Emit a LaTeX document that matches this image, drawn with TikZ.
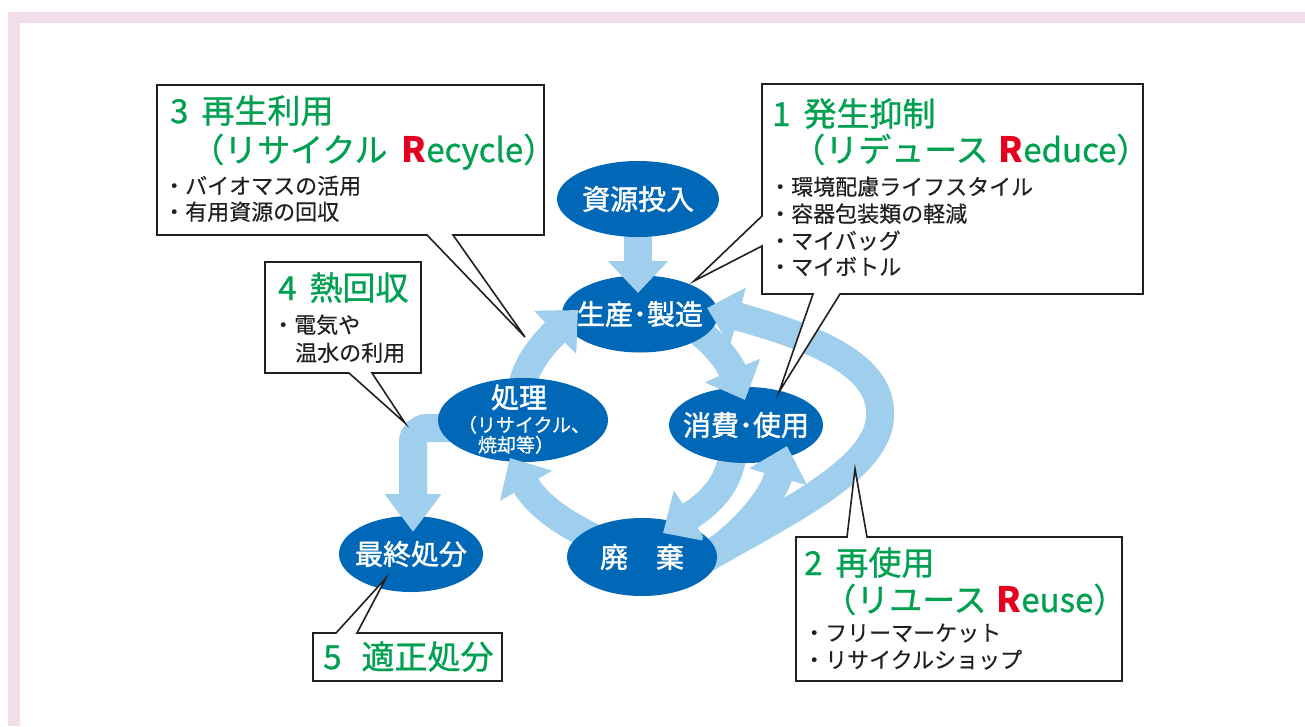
\documentclass[tikz,border=0pt]{standalone}
\usepackage{fontspec}
\setmainfont{Noto Sans CJK JP}
\newfontfamily\jpheavy{Noto Sans CJK JP}[FakeBold=1.5]
\newfontfamily\jpmed{Noto Sans CJK JP}[FakeBold=0.8]
\newfontfamily\jpbul{Noto Sans CJK JP}[FakeBold=0.3]
\usetikzlibrary{shapes.geometric,arrows.meta,calc}
\pgfdeclarelayer{bg}
\pgfsetlayers{bg,main}
\definecolor{ellblue}{HTML}{0068B6}
\definecolor{arrowblue}{HTML}{A0CFEE}
\definecolor{tgreen}{HTML}{00A051}
\definecolor{rred}{HTML}{E60020}
\definecolor{tblack}{HTML}{231F20}
\definecolor{pinkframe}{HTML}{F2DDEB}
\tikzset{
  ell/.style={ellipse, fill=ellblue, draw=none, inner sep=0pt},
  elltext/.style={text=white, inner sep=0pt, font=\jpheavy\fontsize{28}{30}\selectfont},
  flow/.style={draw=arrowblue, line width=28pt, -{Triangle[width=58pt,length=32pt]}},
  flowlong/.style={draw=arrowblue, line width=28pt, -{Triangle[width=54pt,length=38pt]}},
  callout/.style={fill=white, draw=tblack, line width=1.6pt, line join=miter},
  ttl/.style={anchor=base west, text=tgreen, inner sep=0pt, font=\jpmed\fontsize{33}{36}\selectfont},
  bul/.style={anchor=base west, text=tblack, inner sep=0pt, font=\jpbul\fontsize{22}{26}\selectfont}
}
\newcommand{\bigR}{{\color{rred}\normalfont\bfseries\fontsize{35}{36}\selectfont R}}
\newcommand{\arrA}{\draw[flow] (a1s) -- (a1e);}
\newcommand{\arrB}{\draw[flow] (a2s) .. controls (712,340) and (728,360) .. (a2e);}
\newcommand{\arrC}{\draw[flow] (a3s) .. controls (733,478) and (715,500) .. (a3e);}
\newcommand{\arrD}{\draw[flow] (a4s) .. controls (730,545) and (770,505) .. (a4e);}
\newcommand{\arrE}{\draw[flow] (a5s) .. controls (780,515) and (880,470) .. (880,415) .. controls (882,365) and (815,338) .. (a5e);}
\newcommand{\arrF}{\draw[flow] (a6s) .. controls (575,530) and (540,510) .. (a6e);}
\newcommand{\arrG}{\draw[flow] (a7s) .. controls (522,372) and (535,352) .. (a7e);}
\newcommand{\arrH}{\draw[flowlong, rounded corners=14pt] (a8s) -- (a8c) -- (a8e);}
\begin{document}
\begin{tikzpicture}[x=1pt,y=-1pt]
\useasboundingbox (0,0) rectangle (1305,726);
% ellipses
\node[ell, minimum width=162pt, minimum height=76pt] (src) at (638,199) {};
\node[ell, minimum width=156pt, minimum height=77pt] (prod) at (640,314) {};
\node[ell, minimum width=154pt, minimum height=76pt] (cons) at (746,425) {};
\node[ell, minimum width=170pt, minimum height=84pt] (proc) at (523,420) {};
\node[ell, minimum width=150pt, minimum height=78pt] (disp) at (642,557) {};
\node[ell, minimum width=144pt, minimum height=76pt] (final) at (411,554) {};
% arrow end points
\coordinate (a1s) at ($(src.center)+(0,16)$);
\coordinate (a1e) at ($(prod.center)+(-2,-21)$);
\coordinate (a2s) at ($(prod.center)+(50,11)$);
\coordinate (a2e) at ($(cons.center)+(-1,-25)$);
\coordinate (a3s) at ($(cons.center)+(-13,20)$);
\coordinate (a3e) at ($(disp.center)+(21,-24)$);
\coordinate (a4s) at ($(disp.center)+(58,3)$);
\coordinate (a4e) at ($(cons.center)+(41,21)$);
\coordinate (a5s) at ($(disp.center)+(58,5)$);
\coordinate (a5e) at ($(prod.center)+(67,-6)$);
\coordinate (a6s) at ($(disp.center)+(-32,-12)$);
\coordinate (a6e) at ($(proc.center)+(-13,38)$);
\coordinate (a7s) at ($(proc.center)+(-3,-20)$);
\coordinate (a7e) at ($(prod.center)+(-62,-4)$);
\coordinate (a8s) at ($(proc.center)+(-43,8)$);
\coordinate (a8c) at (413,428);
\coordinate (a8e) at ($(final.center)+(2,-22)$);
\begin{pgfonlayer}{bg}
  \fill[white] (0,0) rectangle (1305,726);
  \fill[pinkframe] (8,12) rectangle (1305,726);
  \fill[white] (20,23) rectangle (1305,726);
  \arrA \arrB \arrC \arrD \arrE \arrF \arrG \arrH
\end{pgfonlayer}
% arrow heads over the target ellipses
\begin{scope}\clip (a1e) circle (40pt); \arrA \end{scope}
\begin{scope}\clip (a2e) circle (40pt); \arrB \end{scope}
\begin{scope}\clip (a3e) circle (40pt); \arrC \end{scope}
\begin{scope}\clip (a4e) circle (40pt); \arrD \end{scope}
\begin{scope}\clip (a5e) circle (40pt); \arrE \end{scope}
\begin{scope}\clip (a6e) circle (40pt); \arrF \end{scope}
\begin{scope}\clip (a7e) circle (40pt); \arrG \end{scope}
\begin{scope}\clip (a8e) circle (46pt); \arrH \end{scope}
% ellipse labels
\node[elltext] (lsrc) at (src.center) {資源投入};
\node[elltext] (lprod) at (prod.center) {生産･製造};
\node[elltext] (lcons) at (cons.center) {消費･使用};
\node[elltext] (ldisp) at (disp.center) {廃　棄};
\node[elltext] (lfinal) at (final.center) {最終処分};
\node[elltext, anchor=base] (lproc1) at (519,408) {処理};
\node[elltext, anchor=base, font=\jpmed\fontsize{19}{20}\selectfont] (lproc2) at (524,432) {（リサイクル、};
\node[elltext, anchor=base, font=\jpmed\fontsize{19}{20}\selectfont] (lproc3) at (516,452) {焼却等）};
% callouts
\draw[callout] (157,85) -- (544,85) -- (544,235) -- (453,235) -- (525,337) -- (427,235) -- (157,235) -- cycle;
\draw[callout] (762,84) -- (1143,84) -- (1143,294) -- (840,294) -- (779,392) -- (813,294) -- (762,294) -- (762,246) -- (694,281) -- (762,216) -- cycle;
\draw[callout] (265,262) -- (421,262) -- (421,373) -- (372,373) -- (405,423) -- (349,373) -- (265,373) -- cycle;
\draw[callout] (796,537) -- (847,537) -- (855,469) -- (867,537) -- (1122,537) -- (1122,681) -- (796,681) -- cycle;
\draw[callout] (313,633) -- (336,633) -- (386,578) -- (357,633) -- (502,633) -- (502,681) -- (313,681) -- cycle;
% callout 3
\node[ttl] (t3a) at (170,123) {3\hspace{13pt}再生利用};
\node[ttl] (t3b) at (191,162) {（リサイクル\hspace{14pt}\bigR ecycle）};
\node[bul] (b3a) at (163,194) {・バイオマスの活用};
\node[bul] (b3b) at (163,220) {・有用資源の回収};
% callout 1
\node[ttl] (t1a) at (772,126) {1\hspace{13pt}発生抑制};
\node[ttl] (t1b) at (792,162) {（リデュース\hspace{10pt}\bigR educe）};
\node[bul] (b1a) at (769,195) {・環境配慮ライフスタイル};
\node[bul] (b1b) at (769,222) {・容器包装類の軽減};
\node[bul] (b1c) at (769,249) {・マイバッグ};
\node[bul] (b1d) at (769,275) {・マイボトル};
% callout 2
\node[ttl] (t2a) at (804,575) {2\hspace{13pt}再使用};
\node[ttl] (t2b) at (823,612) {（リユース\hspace{10pt}\bigR euse）};
\node[bul] (b2a) at (803,641) {・フリーマーケット};
\node[bul] (b2b) at (803,668) {・リサイクルショップ};
% callout 4
\node[ttl] (t4a) at (278,300) {4\hspace{13pt}熱回収};
\node[bul] (b4a) at (272,333) {・電気や};
\node[bul] (b4b) at (295,361) {温水の利用};
% callout 5
\node[ttl] (t5) at (323,669) {5\hspace{20pt}適正処分};
\end{tikzpicture}
\end{document}
